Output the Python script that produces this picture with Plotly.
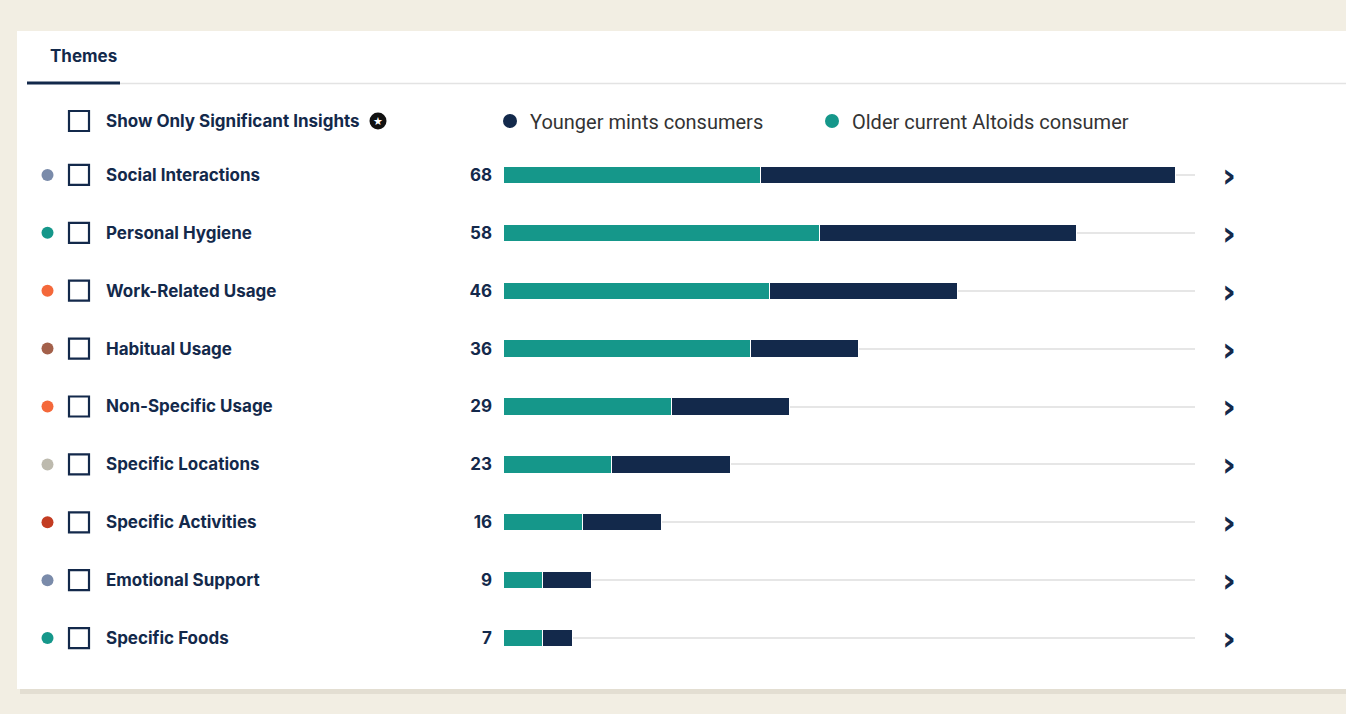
import plotly.graph_objects as go

# ---- data ----
themes = ["Social Interactions", "Personal Hygiene", "Work-Related Usage", "Habitual Usage",
          "Non-Specific Usage", "Specific Locations", "Specific Activities",
          "Emotional Support", "Specific Foods"]
older_altoids = [26, 32, 27, 25, 17, 11, 8, 4, 4]
younger_mints = [42, 26, 19, 11, 12, 12, 8, 5, 3]
totals = [68, 58, 46, 36, 29, 23, 16, 9, 7]
theme_colors = ["#7A8BAA", "#15978A", "#F4683A", "#A3604A", "#F4683A",
                "#BDBAAE", "#C33C22", "#7A8BAA", "#15978A"]
series_names = ["Younger mints consumers", "Older current Altoids consumer"]

NAVY = "#13294B"
TEAL = "#15978A"
BEIGE = "#F2EEE3"
W, H = 1346, 714
UIFONT = "Inter"
FS = 17


def px(x):
    return x / W


def py(y):
    return 1 - y / H


fig = go.Figure()

# legend entries with round symbols (first so they come first in the legend)
fig.add_trace(go.Scatter(x=[None], y=[None], mode="markers", name=series_names[0],
                         marker=dict(color=NAVY, size=14, symbol="circle")))
fig.add_trace(go.Scatter(x=[None], y=[None], mode="markers", name=series_names[1],
                         marker=dict(color=TEAL, size=14, symbol="circle")))

# stacked bars
fig.add_trace(go.Bar(y=themes, x=older_altoids, orientation="h", name=series_names[1],
                     marker=dict(color=TEAL, line=dict(color="white", width=1)),
                     showlegend=False, hoverinfo="x+name"))
fig.add_trace(go.Bar(y=themes, x=younger_mints, orientation="h", name=series_names[0],
                     marker=dict(color=NAVY, line=dict(color="white", width=1)),
                     showlegend=False, hoverinfo="x+name"))

# theme dots and checkboxes on the left (own axes, same rows)
fig.add_trace(go.Scatter(x=[47.5] * len(themes), y=themes, xaxis="x2", yaxis="y2",
                         mode="markers", showlegend=False, hoverinfo="skip",
                         marker=dict(color=theme_colors, size=12, symbol="circle")))
fig.add_trace(go.Scatter(x=[79] * len(themes), y=themes, xaxis="x2", yaxis="y2",
                         mode="markers", showlegend=False, hoverinfo="skip",
                         marker=dict(color=NAVY, size=20, symbol="square-open",
                                     line=dict(color=NAVY, width=2.2))))

annotations = []
for t in themes:
    annotations.append(dict(x=px(104), xref="paper", y=t, yref="y", text=t, showarrow=False,
                            xanchor="left", yanchor="middle",
                            font=dict(family=UIFONT, size=FS, color=NAVY, weight=700)))
    annotations.append(dict(x=px(1229), xref="paper", y=t, yref="y", text="›", showarrow=False,
                            xanchor="center", yanchor="middle",
                            font=dict(family="DejaVu Sans", size=34, color=NAVY, weight=700)))

annotations += [
    dict(x=px(83), y=py(56), xref="paper", yref="paper", text="Themes", showarrow=False,
         xanchor="center", yanchor="middle", font=dict(family=UIFONT, size=FS, color=NAVY, weight=700)),
    dict(x=px(104), y=py(121), xref="paper", yref="paper", text="Show Only Significant Insights",
         showarrow=False, xanchor="left", yanchor="middle",
         font=dict(family=UIFONT, size=FS, color=NAVY, weight=700)),
    dict(x=px(378), y=py(121), xref="paper", yref="paper", text="★", showarrow=False,
         xanchor="center", yanchor="middle", font=dict(family="DejaVu Sans", size=11, color="white")),
]

shapes = [
    # shadow + white card
    dict(type="rect", xref="paper", yref="paper", x0=px(20), x1=px(1360), y0=py(694), y1=py(36),
         fillcolor="rgba(120,110,90,0.12)", line=dict(width=0), layer="below"),
    dict(type="rect", xref="paper", yref="paper", x0=px(17), x1=px(1360), y0=py(689), y1=py(31),
         fillcolor="white", line=dict(width=0), layer="below"),
    # tab line
    dict(type="line", xref="paper", yref="paper", x0=px(118), x1=px(1346), y0=py(83.5), y1=py(83.5),
         line=dict(color="#E3E3E3", width=1.5)),
    dict(type="line", xref="paper", yref="paper", x0=px(27), x1=px(120), y0=py(83), y1=py(83),
         line=dict(color=NAVY, width=3)),
    # "show only" checkbox and star badge
    dict(type="rect", xref="paper", yref="paper", x0=px(69), x1=px(89), y0=py(131), y1=py(111),
         line=dict(color=NAVY, width=2.2), fillcolor="white"),
    dict(type="circle", xref="paper", yref="paper", x0=px(369.5), x1=px(386.5), y0=py(129.5), y1=py(112.5),
         line=dict(width=0), fillcolor="#111111"),
]

ydom = [py(667), py(146)]
fig.update_layout(
    width=W, height=H,
    margin=dict(l=0, r=0, t=0, b=0),
    paper_bgcolor=BEIGE,
    plot_bgcolor="rgba(0,0,0,0)",
    barmode="stack",
    bargap=0.70,
    xaxis=dict(type="linear", domain=[px(503), px(1195)], range=[0, 70], showgrid=False,
               zeroline=False, showticklabels=False, fixedrange=True),
    yaxis=dict(type="category", domain=ydom, categoryorder="array", categoryarray=themes,
               range=[len(themes) - 0.5, -0.5], showgrid=True, gridcolor="#E6E6E6", gridwidth=1.5,
               zeroline=False, tickmode="array", tickvals=themes, ticktext=[str(v) for v in totals],
               ticks="", ticklabelstandoff=10,
               tickfont=dict(family=UIFONT, size=FS, color=NAVY, weight=700)),
    xaxis2=dict(type="linear", domain=[0, px(484)], range=[0, 484], anchor="y2", visible=False),
    yaxis2=dict(type="category", domain=ydom, categoryorder="array", categoryarray=themes,
                range=[len(themes) - 0.5, -0.5],
                anchor="x2", overlaying="y", visible=False, showgrid=False),
    legend=dict(orientation="h", x=px(490), xanchor="left", y=py(121), yanchor="middle",
                traceorder="normal",
                font=dict(family="Roboto", size=20, color="#333333"),
                entrywidth=277, entrywidthmode="pixels", bgcolor="rgba(0,0,0,0)",
                itemclick=False, itemdoubleclick=False),
    annotations=annotations,
    shapes=shapes,
    showlegend=True,
)

fig.write_html("out.html")
